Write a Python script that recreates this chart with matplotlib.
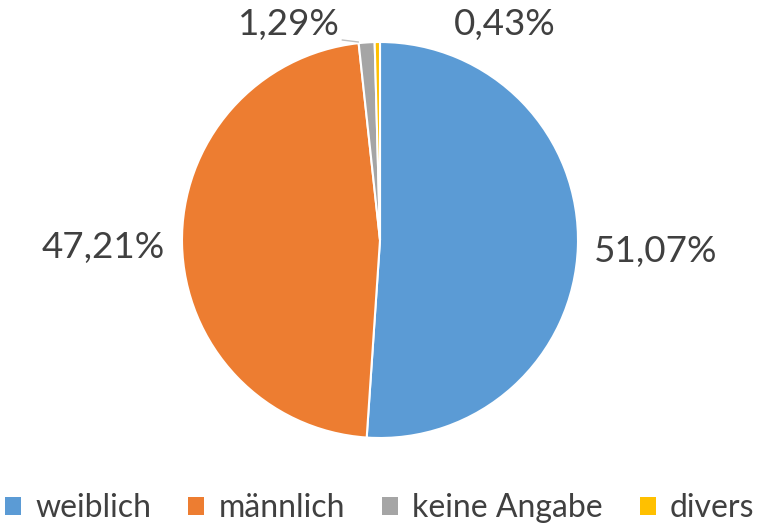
import matplotlib.pyplot as plt
from matplotlib.patches import Patch

# data
categories = ['weiblich', 'männlich', 'keine Angabe', 'divers']
values = [51.07, 47.21, 1.29, 0.43]
labels = ['51,07%', '47,21%', '1,29%', '0,43%']
colours = ['#5b9bd5', '#ed7d31', '#a5a5a5', '#ffc000']

plt.rcParams['font.family'] = ['Lato', 'DejaVu Sans']
txt_col = '#404040'

fig = plt.figure(figsize=(7.6, 5.31), dpi=100)
W, H = 760, 531
cx, cy, r = 380, 240, 198
ax = fig.add_axes([(cx - r) / W, (H - cy - r) / H, 2 * r / W, 2 * r / H])

wedges, _ = ax.pie(values, colors=colours, startangle=90, counterclock=False,
                   radius=1.0, wedgeprops=dict(edgecolor='white', linewidth=1.5))
ax.set_xlim(-1, 1)
ax.set_ylim(-1, 1)
ax.set_aspect('equal')

# label positions (data coords, radius = 1)
label_pos = [(1.39, -0.06), (-1.40, -0.04), (-0.46, 1.09), (0.63, 1.09)]
for (x, y), t in zip(label_pos, labels):
    ax.text(x, y, t, ha='center', va='center', fontsize=26.5, color=txt_col,
            clip_on=False)

# leader line for small grey slice
ax.plot([-0.19, -0.11], [1.01, 1.0], color='#bfbfbf', lw=1, clip_on=False)

handles = [Patch(facecolor=c, edgecolor='none') for c in colours]
fig.legend(handles, categories, loc='center', bbox_to_anchor=(0.5, 1 - 508 / H),
           ncol=4, frameon=False, handlelength=0.5, handleheight=0.5,
           handletextpad=0.45, columnspacing=1.15, fontsize=23, labelcolor=txt_col)

fig.savefig('out.png', dpi=100)
